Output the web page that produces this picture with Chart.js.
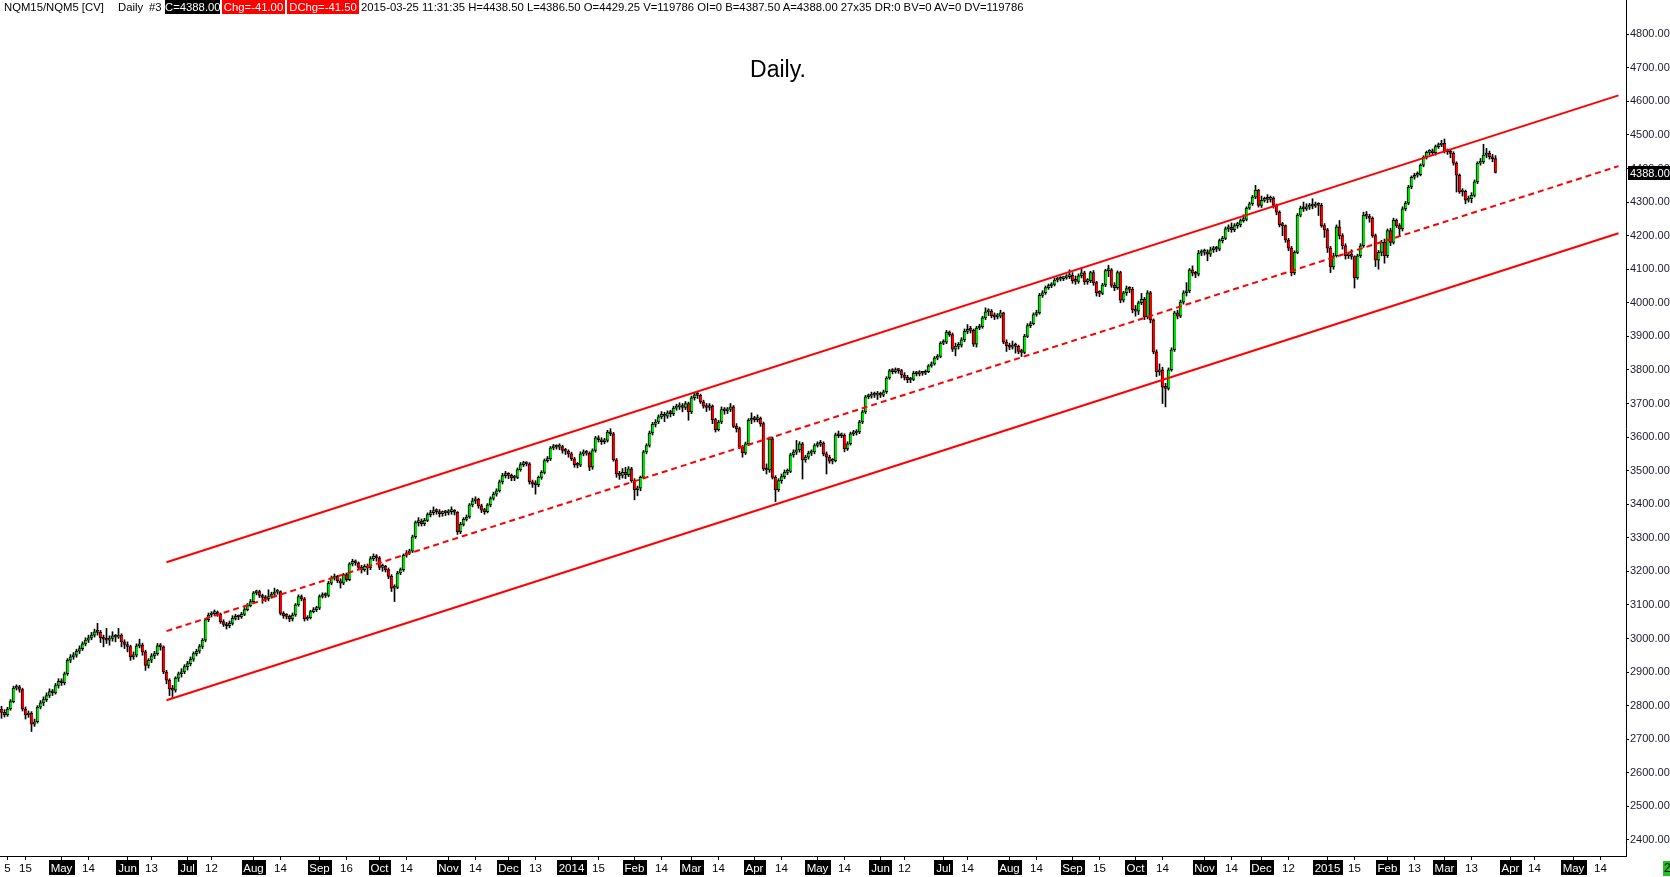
<!DOCTYPE html>
<html>
<head>
<meta charset="utf-8">
<title>NQM15/NQM5 Daily</title>
<script src="https://cdn.jsdelivr.net/npm/chart.js@4.4.1/dist/chart.umd.min.js"></script>
<style>
    html, body { margin: 0; padding: 0; background: #fff; }
    #wrap { position: relative; width: 1670px; height: 877px; overflow: hidden; font-family: "Liberation Sans", Arial, sans-serif; }
    #chart { position: absolute; left: 0; top: 0; }
    .hd { position: absolute; top: 0; font-size: 11.3px; line-height: 14px; height: 14px; white-space: nowrap; color: #000; }
    .box { color: #fff; text-align: center; }
    #title { position: absolute; left: 778px; top: 56px; transform: translateX(-50%); font-size: 23px; color: #000; }
    #corner { position: absolute; left: 1663px; top: 861px; width: 12px; height: 15px; background: #1fc21f; font-size: 12px; line-height: 15px; padding-left: 1px; }
</style>
</head>
<body>
<div id="wrap">
    <canvas id="chart" width="1670" height="877"></canvas>
    <div class="hd" style="left:4px">NQM15/NQM5 [CV]</div>
    <div class="hd" style="left:118px">Daily</div>
    <div class="hd" style="left:149px">#3</div>
    <div class="hd box" style="left:165px;width:55px;background:#000">C=4388.00</div>
    <div class="hd box" style="left:222px;width:63px;background:#f00">Chg=-41.00</div>
    <div class="hd box" style="left:287px;width:72px;background:#f00">DChg=-41.50</div>
    <div class="hd" style="left:361px">2015-03-25 11:31:35 H=4438.50 L=4386.50 O=4429.25 V=119786 OI=0 B=4387.50 A=4388.00 27x35 DR:0 BV=0 AV=0 DV=119786</div>
    <div id="title">Daily.</div>
    <div id="corner">2</div>
</div>
<script>
// Daily NQ futures bars, 2013-04-03 .. 2015-03-25
const closes = [
    2780,2772,2790,2812,2852,2856,2848,2790,2772,2778,
    2745,2752,2795,2808,2818,2830,2842,2838,2860,2872,
    2868,2895,2935,2945,2950,2962,2970,2984,2995,3002,
    3010,3020,3018,3002,2998,2995,3000,3008,3004,3010,
    2990,2982,2976,2945,2950,2978,2980,2960,2920,2935,
    2948,2955,2978,2975,2900,2876,2850,2846,2882,2895,
    2900,2916,2925,2938,2955,2962,2976,2995,3056,3070,
    3074,3077,3073,3050,3042,3038,3045,3060,3066,3064,
    3072,3086,3098,3110,3136,3140,3128,3122,3118,3125,
    3132,3138,3140,3075,3068,3066,3058,3070,3100,3125,
    3118,3058,3062,3080,3086,3090,3125,3130,3128,3165,
    3180,3185,3172,3165,3190,3175,3222,3230,3225,3212,
    3205,3215,3210,3238,3245,3240,3212,3215,3205,3185,
    3150,3152,3195,3205,3248,3255,3260,3303,3345,3350,
    3342,3352,3369,3375,3380,3378,3372,3376,3374,3378,
    3380,3376,3318,3340,3355,3362,3398,3410,3415,3395,
    3382,3378,3398,3417,3430,3440,3467,3485,3490,3486,
    3478,3480,3503,3518,3522,3520,3467,3460,3458,3480,
    3495,3530,3535,3568,3572,3570,3572,3560,3558,3550,
    3535,3518,3516,3550,3556,3552,3510,3560,3598,3592,
    3586,3590,3615,3610,3532,3490,3486,3495,3488,3505,
    3470,3443,3448,3480,3556,3575,3612,3638,3645,3660,
    3668,3662,3672,3670,3686,3690,3694,3688,3700,3675,
    3717,3726,3724,3705,3692,3688,3692,3652,3622,3645,
    3682,3678,3682,3690,3632,3625,3570,3553,3580,3650,
    3655,3652,3656,3640,3505,3502,3595,3480,3443,3470,
    3482,3495,3498,3547,3555,3562,3580,3532,3540,3552,
    3556,3575,3578,3582,3550,3540,3528,3530,3607,3604,
    3606,3565,3580,3610,3612,3615,3645,3675,3720,3722,
    3728,3725,3730,3725,3735,3776,3797,3795,3800,3798,
    3785,3778,3770,3772,3790,3788,3792,3790,3795,3812,
    3818,3835,3840,3880,3883,3913,3905,3862,3870,3874,
    3890,3915,3920,3918,3877,3925,3929,3955,3973,3975,
    3962,3958,3960,3970,3883,3872,3868,3874,3870,3855,
    3852,3900,3932,3938,3965,3970,4022,4030,4045,4050,
    4055,4068,4070,4072,4074,4078,4082,4066,4064,4080,
    4089,4063,4066,4090,4060,4030,4028,4053,4096,4098,
    4052,4045,4090,4008,4030,4042,4040,3979,3975,4000,
    4010,3958,4030,3949,3854,3794,3800,3749,3745,3800,
    3860,3970,3960,4002,4030,4035,4098,4088,4085,4148,
    4150,4152,4145,4158,4162,4160,4185,4192,4220,4225,
    4218,4230,4232,4245,4248,4282,4295,4315,4336,4290,
    4305,4310,4308,4312,4290,4270,4232,4230,4187,4163,
    4089,4150,4261,4282,4280,4285,4290,4288,4292,4290,
    4230,4217,4163,4107,4140,4226,4200,4170,4140,4145,
    4138,4074,4140,4170,4261,4258,4252,4200,4127,4150,
    4180,4140,4215,4180,4246,4230,4220,4280,4297,4345,
    4374,4380,4382,4410,4434,4448,4450,4447,4465,4470,
    4475,4450,4452,4445,4416,4380,4330,4332,4306,4310,
    4320,4360,4416,4420,4440,4445,4435,4429,4388
];

const opens = [
    2790,2780,2772,2790,2812,2852,2856,2848,2790,2772,
    2778,2745,2752,2795,2808,2818,2830,2842,2838,2860,
    2872,2868,2895,2935,2945,2950,2962,2970,2984,2995,
    3002,3010,3020,3018,3002,2998,2995,3000,3008,3004,
    3010,2990,2982,2976,2945,2950,2978,2980,2960,2920,
    2935,2948,2955,2978,2975,2900,2876,2850,2846,2882,
    2895,2900,2916,2925,2938,2955,2962,2976,2995,3056,
    3070,3074,3077,3073,3050,3042,3038,3045,3060,3066,
    3064,3072,3086,3098,3110,3136,3140,3128,3122,3118,
    3125,3132,3138,3140,3075,3068,3066,3058,3070,3100,
    3125,3118,3058,3062,3080,3086,3090,3125,3130,3128,
    3165,3180,3185,3172,3165,3190,3175,3222,3230,3225,
    3212,3205,3215,3210,3238,3245,3240,3212,3215,3205,
    3185,3150,3152,3195,3205,3248,3255,3260,3303,3345,
    3350,3342,3352,3369,3375,3380,3378,3372,3376,3374,
    3378,3380,3376,3318,3340,3355,3362,3398,3410,3415,
    3395,3382,3378,3398,3417,3430,3440,3467,3485,3490,
    3486,3478,3480,3503,3518,3522,3520,3467,3460,3458,
    3480,3495,3530,3535,3568,3572,3570,3572,3560,3558,
    3550,3535,3518,3516,3550,3556,3552,3510,3560,3598,
    3592,3586,3590,3615,3610,3532,3490,3486,3495,3488,
    3505,3470,3443,3448,3480,3556,3575,3612,3638,3645,
    3660,3668,3662,3672,3670,3686,3690,3694,3688,3700,
    3675,3717,3726,3724,3705,3692,3688,3692,3652,3622,
    3645,3682,3678,3682,3690,3632,3625,3570,3553,3580,
    3650,3655,3652,3656,3640,3505,3502,3595,3480,3443,
    3470,3482,3495,3498,3547,3555,3562,3580,3532,3540,
    3552,3556,3575,3578,3582,3550,3540,3528,3530,3607,
    3604,3606,3565,3580,3610,3612,3615,3645,3675,3720,
    3722,3728,3725,3730,3725,3735,3776,3797,3795,3800,
    3798,3785,3778,3770,3772,3790,3788,3792,3790,3795,
    3812,3818,3835,3840,3880,3883,3913,3905,3862,3870,
    3874,3890,3915,3920,3918,3877,3925,3929,3955,3973,
    3975,3962,3958,3960,3970,3883,3872,3868,3874,3870,
    3855,3852,3900,3932,3938,3965,3970,4022,4030,4045,
    4050,4055,4068,4070,4072,4074,4078,4082,4066,4064,
    4080,4089,4063,4066,4090,4060,4030,4028,4053,4096,
    4098,4052,4045,4090,4008,4030,4042,4040,3979,3975,
    4000,4010,3958,4030,3949,3854,3794,3800,3749,3745,
    3800,3860,3970,3960,4002,4030,4035,4098,4088,4085,
    4148,4150,4152,4145,4158,4162,4160,4185,4192,4220,
    4225,4218,4230,4232,4245,4248,4282,4295,4315,4336,
    4290,4305,4310,4308,4312,4290,4270,4232,4230,4187,
    4163,4089,4150,4261,4282,4280,4285,4290,4288,4292,
    4290,4230,4217,4163,4107,4140,4226,4200,4170,4140,
    4145,4138,4074,4140,4170,4261,4258,4252,4200,4127,
    4150,4180,4140,4215,4180,4246,4230,4220,4280,4297,
    4345,4374,4380,4382,4410,4434,4448,4450,4447,4465,
    4470,4475,4450,4452,4445,4416,4380,4330,4332,4306,
    4310,4320,4360,4416,4420,4440,4445,4435,4429.25
];

const highs = [
    2798,2788,2795,2818,2858,2862,2860,2852,2796,2784,
    2782,2760,2800,2815,2826,2838,2850,2848,2866,2880,
    2880,2900,2940,2952,2958,2968,2978,2990,3002,3010,
    3018,3028,3045,3024,3010,3030,3008,3020,3012,3030,
    3014,2996,2990,2980,2960,2984,2998,2986,2965,2940,
    2955,2962,2985,2985,2978,2905,2880,2860,2886,2900,
    2910,2922,2932,2945,2960,2968,2982,3000,3060,3076,
    3080,3085,3082,3076,3056,3048,3052,3068,3072,3070,
    3078,3092,3104,3116,3140,3144,3144,3132,3128,3145,
    3138,3150,3146,3142,3080,3074,3070,3076,3104,3130,
    3130,3122,3068,3084,3092,3096,3130,3136,3136,3170,
    3186,3192,3188,3178,3194,3195,3226,3236,3234,3228,
    3218,3220,3222,3244,3252,3250,3244,3222,3218,3210,
    3190,3160,3200,3210,3252,3262,3266,3308,3350,3360,
    3356,3358,3374,3382,3392,3386,3384,3380,3382,3384,
    3392,3384,3378,3346,3360,3368,3402,3418,3422,3418,
    3400,3388,3402,3422,3436,3446,3472,3492,3498,3494,
    3490,3486,3508,3524,3528,3526,3524,3472,3470,3484,
    3500,3535,3542,3572,3578,3577,3580,3576,3566,3562,
    3555,3540,3524,3556,3562,3560,3556,3565,3602,3604,
    3598,3596,3620,3625,3614,3536,3498,3506,3510,3512,
    3510,3476,3454,3484,3560,3580,3618,3644,3652,3666,
    3676,3674,3678,3680,3692,3698,3702,3700,3706,3704,
    3722,3732,3736,3728,3710,3700,3700,3696,3656,3650,
    3690,3688,3688,3700,3694,3640,3630,3575,3585,3655,
    3672,3662,3666,3660,3645,3520,3600,3600,3485,3476,
    3490,3502,3505,3552,3562,3590,3586,3584,3546,3558,
    3562,3580,3586,3590,3586,3556,3546,3536,3612,3618,
    3612,3610,3586,3615,3620,3622,3650,3680,3724,3728,
    3734,3734,3736,3734,3740,3780,3802,3804,3806,3804,
    3802,3792,3784,3778,3796,3796,3798,3796,3800,3816,
    3824,3840,3846,3884,3890,3918,3916,3910,3880,3882,
    3896,3922,3935,3930,3922,3930,3936,3960,3985,3982,
    3980,3970,3968,3978,3972,3890,3880,3886,3880,3874,
    3862,3906,3938,3944,3970,3978,4028,4036,4050,4056,
    4060,4074,4076,4078,4078,4084,4098,4090,4080,4086,
    4104,4094,4072,4094,4096,4064,4036,4058,4100,4112,
    4102,4060,4095,4094,4034,4050,4048,4046,3992,4005,
    4028,4016,4036,4034,3952,3860,3818,3808,3760,3806,
    3866,3975,3978,4008,4036,4060,4102,4110,4094,4156,
    4158,4160,4158,4166,4168,4168,4190,4198,4226,4232,
    4238,4236,4240,4250,4262,4286,4300,4320,4350,4338,
    4318,4315,4322,4318,4316,4294,4274,4240,4232,4192,
    4168,4155,4266,4288,4300,4295,4296,4310,4300,4298,
    4296,4236,4222,4168,4148,4232,4245,4206,4176,4150,
    4158,4140,4145,4176,4270,4272,4264,4256,4205,4156,
    4186,4190,4220,4222,4252,4250,4236,4286,4302,4350,
    4378,4386,4390,4414,4438,4452,4456,4458,4470,4476,
    4484,4488,4458,4456,4450,4420,4384,4340,4336,4318,
    4328,4366,4420,4430,4472,4460,4452,4442,4438.5
];

const lows = [
    2762,2766,2768,2786,2808,2846,2840,2784,2760,2765,
    2723,2738,2748,2790,2800,2812,2824,2830,2834,2852,
    2860,2862,2890,2928,2938,2944,2955,2964,2978,2988,
    2996,3004,3010,2988,2975,2985,2980,2992,2990,3000,
    2975,2970,2960,2935,2938,2945,2972,2950,2905,2912,
    2928,2940,2950,2965,2895,2865,2830,2824,2840,2872,
    2885,2895,2906,2918,2932,2948,2956,2970,2990,3050,
    3064,3068,3066,3045,3036,3028,3032,3040,3055,3056,
    3060,3068,3082,3094,3106,3130,3122,3105,3110,3112,
    3120,3128,3132,3070,3060,3058,3050,3052,3066,3096,
    3112,3052,3054,3058,3076,3080,3086,3120,3122,3124,
    3160,3174,3166,3150,3160,3170,3172,3216,3218,3206,
    3195,3200,3190,3205,3232,3230,3205,3200,3198,3178,
    3140,3110,3148,3190,3200,3242,3250,3256,3298,3335,
    3335,3336,3348,3362,3368,3370,3362,3364,3366,3368,
    3370,3368,3310,3312,3335,3350,3358,3392,3402,3388,
    3375,3370,3374,3392,3412,3424,3436,3460,3478,3476,
    3470,3470,3476,3498,3512,3514,3460,3450,3430,3452,
    3474,3490,3525,3530,3562,3564,3562,3552,3548,3540,
    3530,3510,3508,3512,3544,3546,3500,3504,3555,3585,
    3578,3580,3585,3604,3528,3480,3474,3478,3476,3482,
    3465,3413,3425,3440,3476,3550,3570,3606,3630,3640,
    3654,3646,3656,3660,3664,3680,3682,3675,3682,3650,
    3670,3710,3715,3700,3686,3676,3680,3640,3615,3618,
    3640,3668,3670,3676,3628,3615,3565,3540,3548,3575,
    3640,3645,3645,3632,3500,3490,3495,3475,3408,3438,
    3462,3476,3488,3494,3540,3548,3555,3475,3525,3534,
    3545,3550,3570,3572,3544,3490,3522,3520,3526,3598,
    3598,3556,3560,3576,3604,3606,3610,3640,3670,3714,
    3716,3718,3712,3718,3720,3730,3772,3788,3790,3790,
    3776,3770,3762,3762,3768,3782,3782,3784,3786,3792,
    3808,3814,3830,3836,3875,3878,3900,3855,3842,3862,
    3868,3884,3908,3910,3870,3868,3920,3924,3950,3962,
    3955,3950,3952,3955,3878,3855,3860,3862,3850,3848,
    3840,3848,3896,3926,3934,3960,3966,4016,4025,4040,
    4045,4050,4062,4065,4066,4070,4072,4058,4055,4058,
    4074,4055,4055,4060,4052,4020,4018,4024,4048,4078,
    4046,4036,4040,4000,4002,4022,4030,3970,3960,3965,
    3994,3950,3952,3940,3848,3780,3784,3700,3690,3740,
    3796,3855,3952,3956,3996,4020,4030,4080,4075,4080,
    4140,4142,4125,4138,4150,4152,4155,4178,4188,4212,
    4210,4212,4222,4226,4240,4244,4278,4290,4310,4285,
    4284,4300,4298,4300,4282,4262,4226,4200,4180,4155,
    4080,4084,4146,4256,4272,4275,4278,4280,4284,4260,
    4225,4195,4150,4090,4100,4136,4190,4160,4130,4132,
    4130,4044,4070,4135,4165,4250,4240,4195,4108,4100,
    4140,4118,4135,4170,4175,4224,4200,4214,4274,4292,
    4340,4368,4374,4378,4405,4428,4440,4438,4440,4460,
    4465,4446,4442,4432,4410,4330,4326,4318,4295,4300,
    4298,4315,4355,4410,4415,4432,4428,4420,4386.5
];

const lastPrice = 4388;
const yTicks = [2400, 2500, 2600, 2700, 2800, 2900, 3000, 3100, 3200, 3300, 3400, 3500,
    3600, 3700, 3800, 3900, 4000, 4100, 4200, 4300, 4400, 4500, 4600, 4700, 4800];

// hand-drawn channel: two anchor dates and the price at each
const channelDates = ['2013-06-20', '2015-05-22'];
const upperChannel = [3227, 4618];
const midChannel = [3022, 4407];
const lowerChannel = [2816, 4207];

// exchange holidays (no bar on these days)
const holidays = ['2013-05-27', '2013-07-04', '2013-09-02', '2013-11-28', '2013-12-25',
    '2014-01-01', '2014-01-20', '2014-02-17', '2014-04-18', '2014-05-26', '2014-07-04',
    '2014-09-01', '2014-11-27', '2014-12-25', '2015-01-01', '2015-01-19', '2015-02-16',
    '2015-04-03', '2015-05-25'];

// mid-month day labels on the time axis
const dayTicks = {
    '2013-04-05': '5', '2013-04-15': '15', '2013-05-14': '14', '2013-06-13': '13',
    '2013-07-12': '12', '2013-08-14': '14', '2013-09-16': '16', '2013-10-14': '14',
    '2013-11-14': '14', '2013-12-13': '13', '2014-01-15': '15', '2014-02-14': '14',
    '2014-03-14': '14', '2014-04-14': '14', '2014-05-14': '14', '2014-06-12': '12',
    '2014-07-14': '14', '2014-08-14': '14', '2014-09-15': '15', '2014-10-14': '14',
    '2014-11-14': '14', '2014-12-12': '12', '2015-01-15': '15', '2015-02-13': '13',
    '2015-03-13': '13', '2015-04-14': '14', '2015-05-14': '14'
};
const monthNames = ['Jan', 'Feb', 'Mar', 'Apr', 'May', 'Jun', 'Jul', 'Aug', 'Sep', 'Oct', 'Nov', 'Dec'];

const SESSION_COUNT = 542;   // bars plus empty space to the right
const AXIS_FONT = '"Liberation Sans", Arial, sans-serif';

function buildSessions(start, count) {
    const out = [];
    const d = new Date(start + 'T00:00:00Z');
    while (out.length < count) {
        const key = d.toISOString().slice(0, 10);
        const wd = d.getUTCDay();
        if (wd !== 0 && wd !== 6 && holidays.indexOf(key) < 0) out.push(key);
        d.setUTCDate(d.getUTCDate() + 1);
    }
    return out;
}

const sessions = buildSessions('2013-04-03', SESSION_COUNT);
const isMonth = sessions.map((s, i) => i > 0 && s.slice(5, 7) !== sessions[i - 1].slice(5, 7));
const tickText = sessions.map((s, i) => {
    if (isMonth[i]) {
        const m = +s.slice(5, 7);
        return m === 1 ? s.slice(0, 4) : monthNames[m - 1];
    }
    return dayTicks[s] || '';
});

const bodies = sessions.map((s, i) => i < closes.length ? [opens[i], closes[i]] : null);
const wicks = sessions.map((s, i) => i < closes.length ? [lows[i], highs[i]] : null);
const bodyColors = sessions.map((s, i) => i < closes.length && closes[i] < opens[i] ? '#f20000' : '#00e000');

// black boxes behind the month names (drawn before the axis text)
const monthBoxes = {
    id: 'monthBoxes',
    beforeDraw(chart) {
        const x = chart.scales.x;
        const ctx = chart.ctx;
        ctx.save();
        ctx.font = '11.5px ' + AXIS_FONT;
        ctx.fillStyle = '#000';
        tickText.forEach((t, i) => {
            if (!isMonth[i]) return;
            const px = x.getPixelForValue(i);
            const w = Math.round(ctx.measureText(t).width + 4);
            ctx.fillRect(Math.round(px - w / 2), x.top + 4, w, 15);
        });
        ctx.restore();
    }
};

// last price tag on the price axis
const lastTag = {
    id: 'lastTag',
    afterDraw(chart) {
        const y = chart.scales.y;
        const ctx = chart.ctx;
        const py = Math.round(y.getPixelForValue(lastPrice));
        ctx.save();
        ctx.fillStyle = '#000';
        ctx.fillRect(y.left + 2, py - 7, y.width, 14);
        ctx.fillStyle = '#fff';
        ctx.font = '11px ' + AXIS_FONT;
        ctx.textBaseline = 'middle';
        ctx.fillText(lastPrice.toFixed(2), y.left + 4, py + 1);
        ctx.restore();
    }
};

function channelLine(values, dash) {
    return {
        type: 'line',
        data: [{ x: channelDates[0], y: values[0] }, { x: channelDates[1], y: values[1] }],
        borderColor: '#ff0000',
        borderWidth: 2,
        borderDash: dash,
        pointRadius: 0,
        order: 0
    };
}

new Chart(document.getElementById('chart'), {
    type: 'bar',
    data: {
        labels: sessions,
        datasets: [
            channelLine(upperChannel, []),
            channelLine(midChannel, [6, 4]),
            channelLine(lowerChannel, []),
            {
                data: bodies,
                backgroundColor: bodyColors,
                borderColor: '#000',
                // neighbouring candle supplies the right-hand edge
                borderWidth: { left: 1, right: 0, top: 1, bottom: 1 },
                borderSkipped: false,
                barThickness: 3,
                minBarLength: 2,
                grouped: false,
                order: 1
            },
            {
                data: wicks,
                backgroundColor: '#000',
                borderWidth: 0,
                barThickness: 1,
                grouped: false,
                order: 2
            }
        ]
    },
    options: {
        responsive: false,
        animation: false,
        devicePixelRatio: 1,
        layout: { padding: 0 },
        plugins: {
            legend: { display: false },
            tooltip: { enabled: false }
        },
        scales: {
            x: {
                type: 'category',
                offset: true,
                grid: {
                    offset: false,
                    drawOnChartArea: false,
                    tickLength: 4,
                    color: c => tickText[c.index] ? '#000' : 'rgba(0,0,0,0)'
                },
                border: { display: true, color: '#000', width: 1 },
                ticks: {
                    autoSkip: false,
                    maxRotation: 0,
                    minRotation: 0,
                    padding: 2,
                    font: { family: AXIS_FONT, size: 11.5 },
                    color: c => isMonth[c.index] ? '#fff' : '#000',
                    callback: (v, i) => tickText[i]
                },
                afterFit: s => { s.height = 21; s.paddingLeft = 0; s.paddingRight = 0; }
            },
            y: {
                position: 'right',
                min: 2352,
                max: 4902,
                grid: { drawOnChartArea: false, tickLength: 3, color: '#000' },
                border: { display: true, color: '#000', width: 1 },
                ticks: {
                    padding: 1,
                    font: { family: AXIS_FONT, size: 11 },
                    color: '#1a1a2e',
                    callback: v => v.toFixed(2)
                },
                afterBuildTicks: s => { s.ticks = yTicks.map(v => ({ value: v })); },
                afterFit: s => { s.width = 44; s.paddingTop = 0; s.paddingBottom = 0; }
            }
        }
    },
    plugins: [monthBoxes, lastTag]
});
</script>
</body>
</html>
